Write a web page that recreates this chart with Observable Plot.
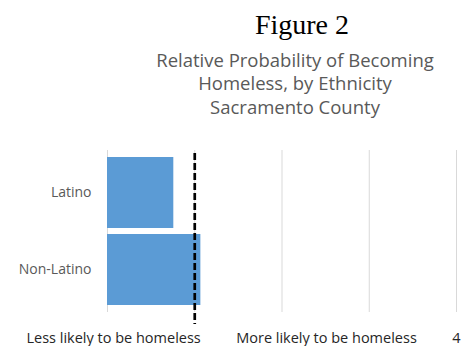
<!DOCTYPE html>
<html><head><meta charset="utf-8">
<script src="https://cdn.jsdelivr.net/npm/d3@7"></script>
<script src="https://cdn.jsdelivr.net/npm/@observablehq/plot@0.6"></script>
<style>
body{margin:0;background:#fff;width:461px;height:346px;overflow:hidden;}
#head{position:relative;height:128px;}
#fig{position:absolute;left:302px;top:9px;transform:translateX(-50%);font-family:"Liberation Serif";font-size:28px;color:#000;white-space:nowrap;line-height:32px;}
.sub{position:absolute;left:295px;transform:translateX(-50%);font-family:"Open Sans";font-size:18.5px;color:#595959;white-space:nowrap;line-height:24px;}
</style></head>
<body>
<div id="head">
<div id="fig">Figure 2</div>
<div class="sub" style="top:48px">Relative Probability of Becoming</div>
<div class="sub" style="top:71px">Homeless, by Ethnicity</div>
<div class="sub" style="top:95px">Sacramento County</div>
</div>
<div id="chart"></div>
<script>
const categories = ["Latino", "Non-Latino"];
const values = [0.76, 1.07];
const reference = 1;
const gridValues = [1, 2, 3, 4];
const tickPositions = [0.07, 2.51, 4];
const tickLabels = ["Less likely to be homeless", "More likely to be homeless", "4"];

const data = categories.map((c, i) => ({cat: c, v: values[i]}));

const chart = Plot.plot({
  width: 461,
  height: 218,
  marginLeft: 107,
  marginRight: 5,
  marginTop: 22,
  marginBottom: 34,
  style: {fontFamily: "Open Sans", fontSize: "13px", background: "#fff", overflow: "visible"},
  x: {domain: [0, 4], axis: null},
  y: {domain: categories, padding: 0.08, axis: null},
  marks: [
    Plot.ruleX(gridValues, {stroke: "#d9d9d9", strokeWidth: 1}),
    Plot.ruleX([0], {stroke: "#d9d9d9", strokeWidth: 1}),
    Plot.barX(data, {x: "v", y: "cat", fill: "#5b9bd5"}),
    Plot.ruleX([reference], {x: d => d, stroke: "#000", strokeWidth: 2.7, strokeDasharray: "7,3", insetTop: 3, insetBottom: -12}),
    Plot.axisY({tickSize: 0, tickPadding: 16, fill: "#595959", fontSize: 14, label: null}),
    Plot.axisX({ticks: tickPositions, tickSize: 0, tickPadding: 20, tickFormat: (d) => tickLabels[tickPositions.indexOf(d)], fill: "#262626", fontSize: 14.5, label: null})
  ]
});
document.getElementById("chart").appendChild(chart);
</script>
</body></html>
